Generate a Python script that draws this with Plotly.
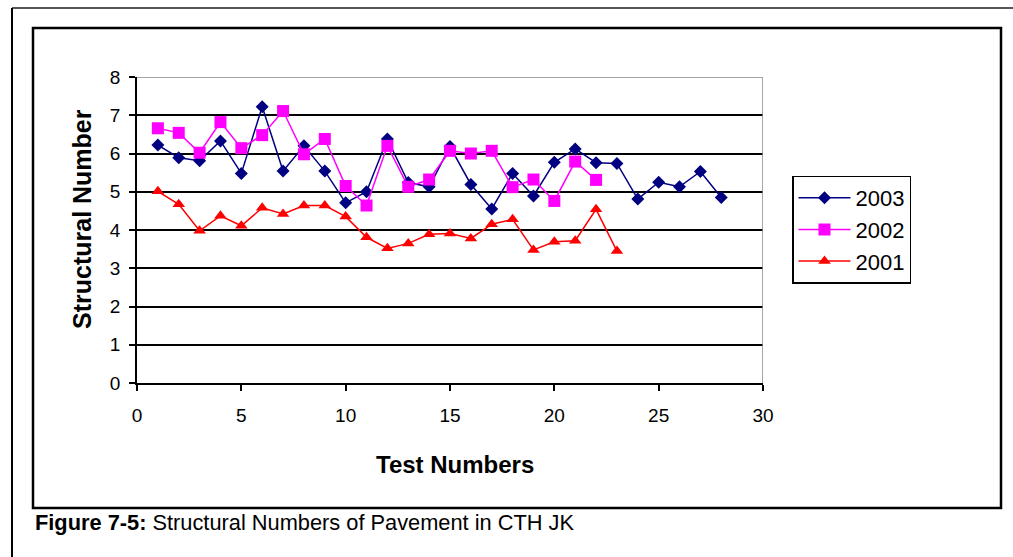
import plotly.graph_objects as go

tests_2003 = list(range(1, 29))
sn_2003 = [6.22, 5.89, 5.81, 6.33, 5.48, 7.22, 5.54, 6.20, 5.54, 4.71,
           5.00, 6.38, 5.24, 5.13, 6.18, 5.19, 4.55, 5.48, 4.89, 5.77,
           6.12, 5.76, 5.74, 4.81, 5.25, 5.13, 5.53, 4.85]

tests_2002 = list(range(1, 23))
sn_2002 = [6.66, 6.54, 6.02, 6.82, 6.14, 6.48, 7.11, 5.98, 6.38, 5.15,
           4.64, 6.20, 5.13, 5.32, 6.07, 6.00, 6.07, 5.12, 5.32, 4.76,
           5.79, 5.31]

tests_2001 = list(range(1, 24))
sn_2001 = [5.01, 4.67, 3.98, 4.37, 4.11, 4.58, 4.42, 4.64, 4.64, 4.35,
           3.81, 3.52, 3.65, 3.89, 3.91, 3.78, 4.15, 4.28, 3.48, 3.69,
           3.72, 4.54, 3.45]

x_ticks = [0, 5, 10, 15, 20, 25, 30]
y_ticks = [0, 1, 2, 3, 4, 5, 6, 7, 8]

W, H = 1013, 557
L, R, T, B = 137, 763, 77, 383  # plot area in pixels
pw, ph = R - L, B - T

def px(xp):
    return (xp - L) / pw

def py(yp):
    return (B - yp) / ph

FONT = "Liberation Sans, Arial, sans-serif"

fig = go.Figure()
fig.add_trace(go.Scatter(x=tests_2003, y=sn_2003, name="2003", mode="lines+markers",
                         legendgroup="a",
                         line=dict(color="#000080", width=1.5),
                         marker=dict(symbol="diamond", size=10, color="#000080")))
fig.add_trace(go.Scatter(x=tests_2002, y=sn_2002, name="2002", mode="lines+markers",
                         legendgroup="b",
                         line=dict(color="#FF00FF", width=1.5),
                         marker=dict(symbol="square", size=12, color="#FF00FF")))
fig.add_trace(go.Scatter(x=tests_2001, y=sn_2001, name="2001", mode="lines+markers",
                         legendgroup="c",
                         line=dict(color="#FF0000", width=1.5),
                         marker=dict(symbol="triangle-up", size=11, color="#FF0000")))

shapes = [
    dict(type="line", xref="paper", yref="paper", x0=px(12), x1=px(1013), y0=py(8), y1=py(8),
         line=dict(color="#555555", width=2)),
    dict(type="line", xref="paper", yref="paper", x0=px(12), x1=px(12), y0=py(8), y1=py(557),
         line=dict(color="#000000", width=2)),
    dict(type="rect", xref="paper", yref="paper", x0=px(33), x1=px(1001), y0=py(28), y1=py(508),
         line=dict(color="#000000", width=2.5), layer="below"),
    dict(type="line", xref="x", yref="y", x0=0, x1=30, y0=8, y1=8,
         line=dict(color="#888888", width=1.5)),
    dict(type="line", xref="x", yref="y", x0=30, x1=30, y0=0, y1=8,
         line=dict(color="#888888", width=1.5)),
]

annotations = [
    dict(text="Test Numbers", xref="paper", yref="paper", x=px(455), y=py(464),
         xanchor="center", yanchor="middle", showarrow=False,
         font=dict(family=FONT, size=24, color="#000000", weight="bold")),
    dict(text="Structural Number", xref="paper", yref="paper", x=px(82), y=py(219),
         xanchor="center", yanchor="middle", showarrow=False, textangle=-90,
         font=dict(family=FONT, size=25, color="#000000", weight="bold")),
    dict(text="<b>Figure 7-5:</b> Structural Numbers of Pavement in CTH JK",
         xref="paper", yref="paper", x=px(33), y=py(522),
         xanchor="left", yanchor="middle", showarrow=False,
         font=dict(family=FONT, size=21.8, color="#000000")),
]

fig.update_layout(
    width=W, height=H,
    margin=dict(l=L, r=W - R, t=T, b=H - B, pad=0),
    paper_bgcolor="white", plot_bgcolor="white",
    showlegend=True,
    legend=dict(x=px(792), y=py(229.5), xanchor="left", yanchor="middle",
                bordercolor="#000000", borderwidth=1.5, bgcolor="white",
                font=dict(family=FONT, size=22, color="#000000"),
                itemwidth=52,
                tracegroupgap=5, traceorder="normal"),
    shapes=shapes,
    annotations=annotations,
    font=dict(family=FONT, color="#000000"),
)

fig.update_xaxes(range=[0, 30], tickvals=x_ticks, ticktext=[str(v) for v in x_ticks],
                 showgrid=False, zeroline=False, showline=True, linecolor="#000000", linewidth=1.5,
                 ticks="outside", ticklen=6, tickcolor="#000000", tickwidth=1.5,
                 ticklabelstandoff=8,
                 tickfont=dict(family=FONT, size=19, color="#000000"))
fig.update_yaxes(range=[0, 8], tickvals=y_ticks, ticktext=[str(v) for v in y_ticks],
                 showgrid=True, gridcolor="#000000", gridwidth=1.5,
                 zeroline=False, showline=True, linecolor="#000000", linewidth=1.5,
                 ticks="outside", ticklen=6, tickcolor="#000000", tickwidth=1.5,
                 ticklabelstandoff=5,
                 tickfont=dict(family=FONT, size=19, color="#000000"))

fig.write_html("out.html")
